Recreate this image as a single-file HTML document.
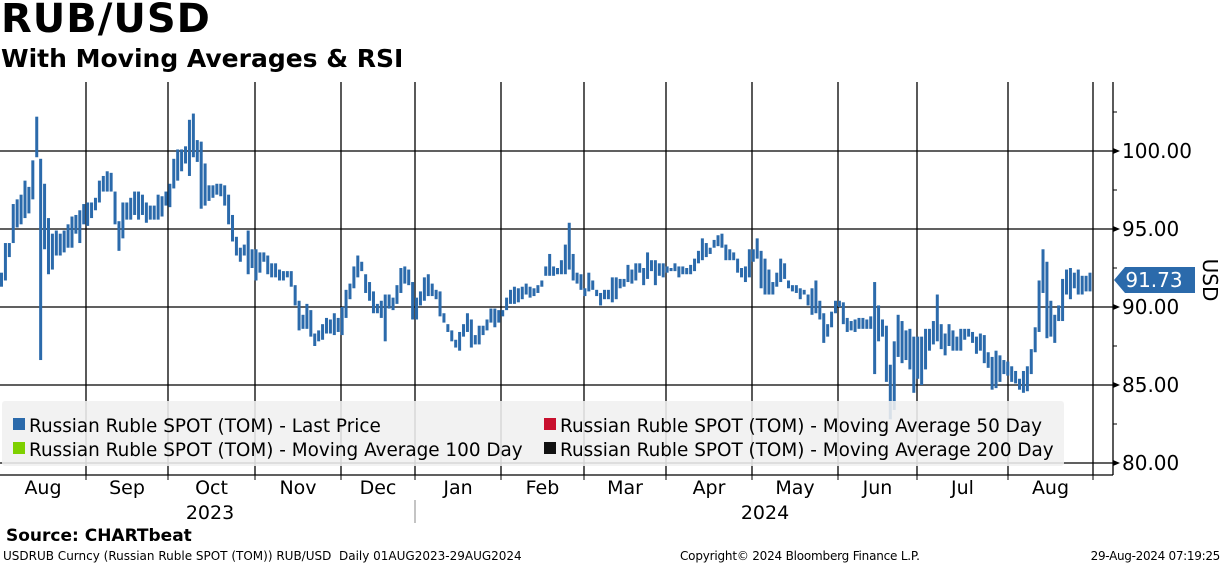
<!DOCTYPE html>
<html><head><meta charset="utf-8"><style>
body{margin:0;background:#fff;font-family:"Liberation Sans","DejaVu Sans",sans-serif;}
#wrap{position:relative;width:1224px;height:566px;overflow:hidden;background:#fff}
.t{position:absolute;white-space:nowrap;color:#000}
</style></head><body>
<div id="wrap">
<div class="t" style="left:1px;top:-4px;font-size:40px;font-weight:bold;font-family:'DejaVu Sans',sans-serif;letter-spacing:1px">RUB/USD</div>
<div class="t" style="left:1px;top:44px;font-size:25px;font-weight:bold;font-family:'DejaVu Sans',sans-serif">With Moving Averages &amp; RSI</div>
<svg id="chart" width="1224" height="566" style="position:absolute;left:0;top:0"></svg>
<div class="t" style="left:6px;top:526px;font-size:17px;font-weight:bold;font-family:'DejaVu Sans',sans-serif">Source: CHARTbeat</div>
<div class="t" style="left:3px;top:549px;font-size:12px;font-family:'DejaVu Sans',sans-serif">USDRUB Curncy (Russian Ruble SPOT (TOM)) RUB/USD&nbsp; Daily 01AUG2023-29AUG2024</div>
<div class="t" style="left:680px;top:549px;font-size:12px;font-family:'DejaVu Sans',sans-serif;letter-spacing:-0.2px">Copyright© 2024 Bloomberg Finance L.P.</div>
<div class="t" style="right:4px;top:549px;font-size:12px;font-family:'DejaVu Sans',sans-serif;letter-spacing:-0.3px">29-Aug-2024 07:19:25</div>
</div>
<script>
const highs=[92.2,94.1,94.1,96.6,96.9,97.2,98.1,97.7,99.4,102.2,99.5,97.9,95.7,94.7,94.9,94.7,94.9,95.3,95.8,95.9,96.2,96.6,96.7,96.7,97.0,98.1,98.4,98.7,98.6,97.4,95.5,96.7,96.7,97.0,97.4,97.4,97.2,96.7,96.5,96.5,97.2,97.1,97.4,97.9,99.5,100.1,100.1,100.3,102.0,102.4,100.7,100.6,99.2,97.8,97.8,97.9,97.9,97.8,97.2,95.9,94.5,93.8,94.0,94.9,93.7,93.7,93.5,93.5,93.3,92.8,92.8,92.4,
92.3,92.3,92.3,91.4,90.4,89.5,90.2,89.8,88.3,88.5,88.9,89.3,89.2,89.6,89.3,90.0,91.1,91.5,92.6,93.3,92.9,92.1,91.6,91.0,90.2,90.4,90.8,90.8,90.6,91.4,92.5,92.6,92.4,91.6,90.6,91.0,91.9,92.1,91.5,91.1,91.0,89.6,88.9,88.5,87.9,88.4,88.9,89.6,89.2,88.2,88.8,88.8,89.2,89.9,89.9,89.8,89.8,90.6,91.1,91.3,91.2,91.3,91.5,91.3,91.2,91.4,91.7,92.6,93.4,
92.6,92.5,93.0,94.0,95.4,93.4,92.2,92.1,91.2,92.2,91.7,91.1,90.9,91.1,91.1,91.9,91.9,91.8,91.8,92.7,92.4,92.8,92.8,92.5,93.5,93.0,93.0,92.8,92.8,92.6,92.5,92.8,92.6,92.6,92.5,92.7,93.1,93.6,94.4,94.1,93.8,94.3,94.6,94.7,94.0,93.7,93.5,93.1,92.5,92.6,93.7,93.7,94.4,93.6,93.1,92.4,91.6,92.2,93.1,92.8,91.7,91.4,91.4,91.2,91.1,90.8,91.2,91.7,90.4,
89.6,88.9,89.7,90.4,90.4,90.3,89.3,89.1,89.2,89.3,89.3,89.2,89.4,91.6,90.1,89.2,88.8,86.3,87.8,89.5,89.1,88.5,88.6,88.1,88.1,88.1,88.6,88.6,89.1,90.8,88.9,88.3,88.9,88.5,88.1,88.6,88.6,88.6,88.4,88.1,88.3,88.2,87.1,86.8,87.2,86.9,86.6,86.5,86.2,85.9,85.4,85.9,86.2,87.3,88.7,91.7,93.7,92.9,90.4,89.5,90.1,91.8,92.4,92.5,92.2,92.4,92.0,92.0,92.2];
const lows=[91.3,91.7,93.2,94.1,95.1,95.3,95.7,96.0,96.9,99.6,86.6,93.7,92.1,92.4,93.3,93.3,93.5,93.8,93.8,94.7,94.1,95.3,95.2,95.7,96.2,96.7,97.4,97.4,97.4,95.3,93.6,94.4,95.6,95.6,95.9,95.6,95.9,95.4,95.6,95.6,95.6,95.8,96.5,96.4,97.6,98.1,98.7,99.2,98.4,99.6,99.3,96.3,96.5,96.8,97.0,97.2,97.1,96.5,95.3,94.2,93.3,92.9,93.3,92.1,92.5,91.7,92.2,92.9,92.1,91.9,91.9,91.7,
91.7,91.9,91.3,90.1,88.5,88.6,88.6,88.1,87.5,87.8,87.9,88.3,88.3,88.2,88.4,88.2,89.3,90.5,91.2,91.9,92.3,90.9,90.4,89.6,89.6,89.3,87.8,89.9,89.8,90.2,90.9,91.5,91.4,89.2,89.2,90.1,90.4,90.7,90.7,90.5,89.4,89.0,88.4,87.8,87.4,87.2,88.1,88.4,87.4,87.6,87.6,88.2,88.5,89.0,88.7,89.0,89.4,89.8,90.2,90.2,90.3,90.5,90.8,90.6,90.7,90.9,91.3,92.0,92.0,
92.0,92.1,92.1,92.1,92.4,91.7,91.5,91.1,90.7,91.0,91.1,90.7,90.1,90.5,90.5,90.3,90.5,91.2,91.3,91.6,91.5,91.7,92.2,91.4,91.8,92.3,91.4,92.0,91.9,92.2,92.3,92.3,91.9,92.1,92.1,92.1,92.3,92.8,93.0,93.2,93.4,93.8,93.9,93.8,93.0,93.0,93.0,92.2,91.9,91.6,91.9,92.9,93.1,91.2,90.8,90.8,90.8,91.3,91.6,91.8,91.2,91.0,90.9,90.5,90.8,90.1,89.5,89.6,89.2,
87.7,88.1,88.7,89.6,90.0,88.9,88.4,88.5,88.4,88.6,88.6,88.6,88.6,85.7,87.8,88.1,85.2,82.8,83.4,86.8,86.4,86.6,86.0,84.5,85.4,85.0,86.0,87.2,87.6,87.8,87.3,86.9,87.5,87.2,87.2,87.2,87.9,88.1,87.7,87.0,87.2,86.4,86.1,84.7,84.8,85.2,85.7,85.6,85.2,85.1,84.7,84.5,84.6,85.7,87.1,88.4,90.9,88.0,88.1,87.7,89.1,89.1,90.8,90.5,91.2,90.8,90.8,91.0,91.0];
const yTicks=[80,85,90,95,100];
const months=["Aug","Sep","Oct","Nov","Dec","Jan","Feb","Mar","Apr","May","Jun","Jul","Aug"];
const years=["2023","2024"];
const lastPrice=91.73;

const NS="http://www.w3.org/2000/svg";
const svg=document.getElementById('chart');
function el(t,a,p){const e=document.createElementNS(NS,t);for(const k in a)e.setAttribute(k,a[k]);(p||svg).appendChild(e);return e;}
const yScale=v=>151+(100-v)*15.6;
const X0=1.5,X1=1090;
const xScale=i=>X0+i*(X1-X0)/(highs.length-1);
const plotTop=82,plotBot=475,axisX=1113;
const monthX=[0,86,168,255,341,415,501,584,666,752,838,917,1008,1093];

yTicks.forEach(v=>{
  const g=el('line',{x1:0,x2:axisX,y1:yScale(v),y2:yScale(v),stroke:'#000','stroke-width':1.3});
  
  
});
monthX.slice(1).forEach(x=>{
  const g=el('line',{x1:x,x2:x,y1:plotTop,y2:plotBot,stroke:'#000','stroke-width':1.3});
  
  
});
highs.forEach((h,i)=>{
  const yh=yScale(h),yl=yScale(lows[i]);
  const r=el('rect',{x:xScale(i)-1.5,y:yh,width:3,height:Math.max(1,yl-yh),fill:'#2b6aab'});
  
  
});
el('line',{x1:axisX,x2:axisX,y1:plotTop,y2:plotBot,stroke:'#000','stroke-width':1.3});
el('line',{x1:0,x2:axisX,y1:plotBot,y2:plotBot,stroke:'#000','stroke-width':1.3});
yTicks.forEach(v=>{
  const y=yScale(v);
  el('path',{d:`M${axisX} ${y-3}L${axisX+7} ${y}L${axisX} ${y+3}Z`,fill:'#000'});
  const t=el('text',{x:axisX+9,y:y+7,'font-size':20,'font-family':'DejaVu Sans,sans-serif',fill:'#000'});
  t.textContent=v.toFixed(2);
  
  
  el('line',{x1:axisX,x2:axisX+4,y1:yScale(v+2.5),y2:yScale(v+2.5),stroke:'#000'});
});
monthX.slice(1).forEach(x=>el('line',{x1:x,x2:x,y1:plotBot,y2:plotBot+5,stroke:'#000'}));
months.forEach((m,i)=>{
  const cx=(monthX[i]+monthX[i+1])/2;
  const t=el('text',{x:cx,y:494,'text-anchor':'middle','font-size':19,'font-family':'DejaVu Sans,sans-serif',fill:'#000'});
  t.textContent=m;
  
  
});
[[210,years[0]],[765,years[1]]].forEach(([x,y])=>{
  const t=el('text',{x:x,y:519,'text-anchor':'middle','font-size':19,'font-family':'DejaVu Sans,sans-serif',fill:'#000'});
  t.textContent=y;
  
  
});
el('line',{x1:415,x2:415,y1:500,y2:523,stroke:'#888'});
const lg=el('g',{});


el('rect',{x:2,y:401,width:1062,height:65,rx:3,fill:'rgba(240,240,240,0.88)'},lg);
const items=[[12,432,'#2b6aab','Russian Ruble SPOT (TOM) - Last Price'],[543,432,'#c8102e','Russian Ruble SPOT (TOM) - Moving Average 50 Day'],[12,456,'#7ed000','Russian Ruble SPOT (TOM) - Moving Average 100 Day'],[543,456,'#111','Russian Ruble SPOT (TOM) - Moving Average 200 Day']];
items.forEach(([x,y,c,s])=>{
  const g=el('g',{},lg);
  
  
  el('rect',{x:x+1,y:y-14,width:12,height:12,fill:c},g);
  const t=el('text',{x:x+17,y:y,'font-size':18.4,'font-family':'DejaVu Sans,sans-serif',fill:'#000'},g);
  t.textContent=s;
});
const ly=yScale(lastPrice);
const tag=el('g',{});


el('path',{d:`M${axisX+1} ${ly}L${axisX+12} ${ly-13}L1195 ${ly-13}L1195 ${ly+13}L${axisX+12} ${ly+13}Z`,fill:'#2b6aab'},tag);
const lt=el('text',{x:1154,y:ly+7,'text-anchor':'middle','font-size':20,'font-family':'DejaVu Sans,sans-serif',fill:'#fff'},tag);
lt.textContent=lastPrice.toFixed(2);
const ut=el('text',{x:0,y:0,'font-size':20,'font-family':'DejaVu Sans,sans-serif',fill:'#000',transform:`translate(1203,${ly}) rotate(90)`,'text-anchor':'middle'});
ut.textContent='USD';


</script>
</body></html>
